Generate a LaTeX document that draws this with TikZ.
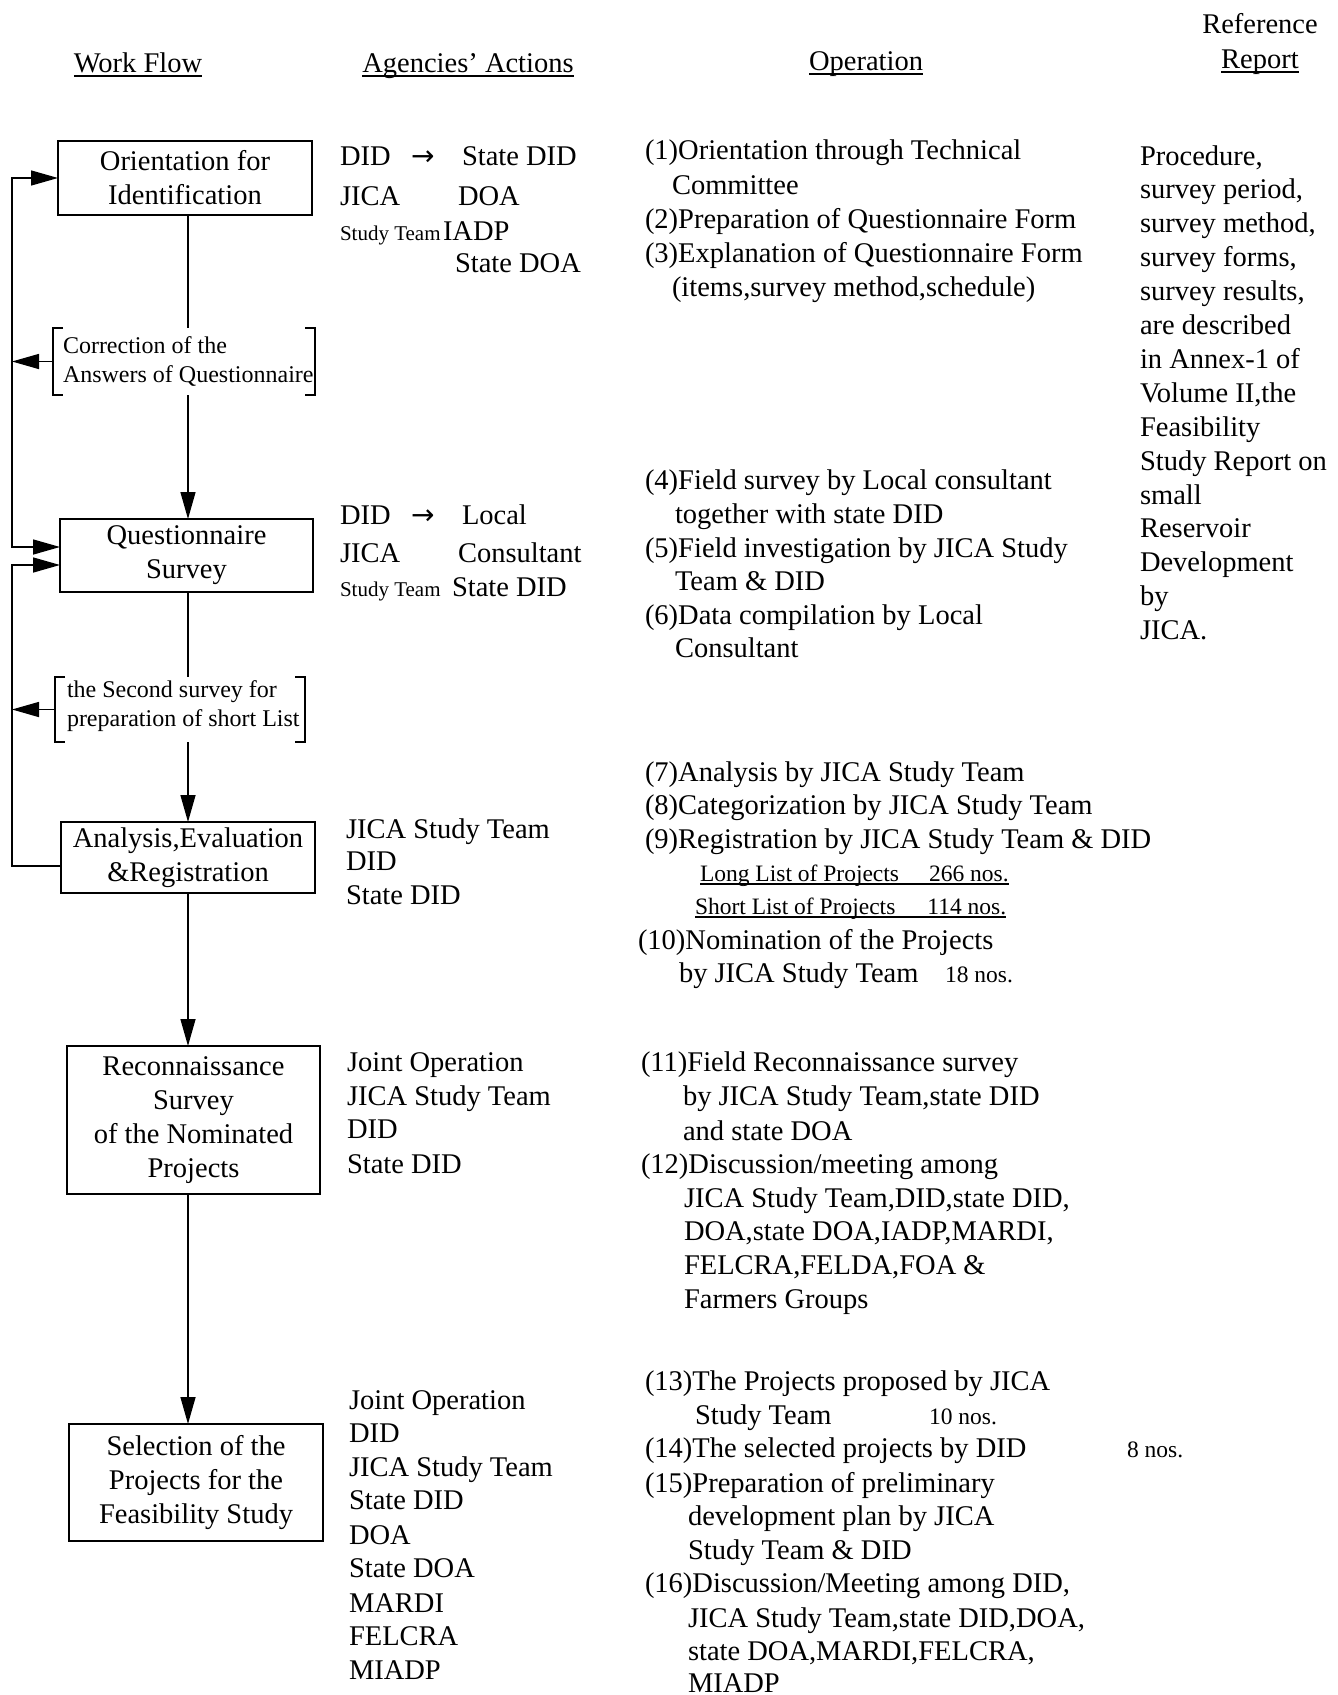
\documentclass[tikz,border=0pt]{standalone}
\usepackage{fontspec}
\setmainfont{Liberation Serif}
\newfontfamily\arrf{DejaVu Sans}
\usetikzlibrary{arrows.meta}
\begin{document}
\begin{tikzpicture}[
  x=1pt, y=-1pt,
  every node/.style={inner sep=0pt, outer sep=0pt},
  t/.style={anchor=base west, font=\fontsize{28.5}{33.8}\selectfont},
  tc/.style={anchor=base, font=\fontsize{28.5}{33.8}\selectfont},
  sm/.style={anchor=base west, font=\fontsize{23.5}{28}\selectfont},
  xs/.style={anchor=base west, font=\fontsize{21}{25}\selectfont},
  br/.style={anchor=base west, font=\fontsize{24}{30}\selectfont},
  box/.style={draw, line width=1.5pt, align=center, font=\fontsize{28.5}{33.8}\selectfont},
  ln/.style={line width=1.5pt},
  ul/.style={line width=1.3pt},
  arr/.style={ln, -{Triangle[length=27pt,width=15pt]}},
]
\useasboundingbox (0,0) rectangle (1338,1695);

% ---------- headers ----------
\node[tc] (h1) at (138,72) {Work Flow};
\node[tc] (h2) at (468,72) {Agencies' Actions};
\node[tc] (h3) at (866,70) {Operation};
\node[tc] (h4) at (1260,33) {Reference};
\node[tc] (h5) at (1260,68) {Report};
\foreach \h in {h1,h2,h3,h5}
  \draw[ul] ([yshift=-4pt]\h.base west) -- ([yshift=-4pt]\h.base east);

% ---------- work flow boxes ----------
\node[box, minimum width=254pt, minimum height=74pt] (b1) at (185,178) {Orientation for\\Identification};
\node[box, minimum width=253pt, minimum height=73pt] (b2) at (186.5,555.5) {Questionnaire\\Survey};
\node[box, minimum width=254pt, minimum height=71pt] (b3) at (188,857.5) {Analysis,Evaluation\\\&Registration};
\node[box, minimum width=253pt, minimum height=148pt] (b4) at (193.5,1120) {Reconnaissance\\Survey\\of the Nominated\\Projects};
\node[box, minimum width=254pt, minimum height=117pt] (b5) at (196,1482.5) {Selection of the\\Projects for the\\Feasibility Study};

% ---------- bracket labels ----------
\node[minimum width=262pt, minimum height=67pt] (c1) at (184,361.5) {};
\node[br] (c1a) at (63,353) {Correction of the};
\node[br] (c1b) at (63,382) {Answers of Questionnaire};
\node[minimum width=250pt, minimum height=65pt] (c2) at (180,709.5) {};
\node[br] (c2a) at (67,697) {the Second survey for};
\node[br] (c2b) at (67,726) {preparation of short List};
\foreach \c in {c1,c2}{
  \draw[ul] ([xshift=10pt]\c.north west) -- (\c.north west) -- (\c.south west) -- ([xshift=10pt]\c.south west);
  \draw[ul] ([xshift=-10pt]\c.north east) -- (\c.north east) -- (\c.south east) -- ([xshift=-10pt]\c.south east);
}

% ---------- main flow ----------
\coordinate (sp) at (188,0);
\draw[ln] (sp |- b1.south) -- (sp |- c1.north);
\draw[arr] (sp |- c1.south) -- (sp |- b2.north);
\draw[ln] (sp |- b2.south) -- (sp |- c2.north);
\draw[arr] (sp |- c2.south) -- (sp |- b3.north);
\draw[arr] (sp |- b3.south) -- (sp |- b4.north);
\draw[arr] (sp |- b4.south) -- (sp |- b5.north);

% ---------- feedback ----------
\coordinate (fa) at (12,361.5);
\coordinate (fb) at (12,709.5);
\draw[arr] (c1.west) -- (fa);
\draw[arr] (fa) |- (b1.west);
\draw[arr] (fa) |- ([yshift=8.5pt]b2.west);
\draw[arr] (c2.west) -- (fb);
\draw[arr] (fb) |- ([yshift=-9.5pt]b2.west);
\draw[ln] (fb) |- ([yshift=-8.5pt]b3.west);

% ---------- agencies ----------
\node[t] (a11) at (340,165) {DID};
\node[t, font=\arrf\fontsize{28}{33.8}\selectfont] (a11r) at (411,165) {→};
\node[t] (a11s) at (462,165) {State DID};
\node[t] (a12) at (340,205) {JICA};
\node[t] (a12s) at (458,205) {DOA};
\node[xs] (a13) at (340,240) {Study Team};
\node[t] (a13s) at (443,240) {IADP};
\node[t] (a14s) at (455,272) {State DOA};

\node[t] (a21) at (340,524) {DID};
\node[t, font=\arrf\fontsize{28}{33.8}\selectfont] (a21r) at (411,524) {→};
\node[t] (a21s) at (462,524) {Local};
\node[t] (a22) at (340,562) {JICA};
\node[t] (a22s) at (458,562) {Consultant};
\node[xs] (a23) at (340,596) {Study Team};
\node[t] (a23s) at (452,596) {State DID};

\node[t] (a31) at (346,838) {JICA Study Team};
\node[t] (a32) at (346,870) {DID};
\node[t] (a33) at (346,904) {State DID};

\node[t] (a41) at (347,1071) {Joint Operation};
\node[t] (a42) at (347,1105) {JICA Study Team};
\node[t] (a43) at (347,1138) {DID};
\node[t] (a44) at (347,1173) {State DID};

\foreach \n/\y/\s in {1/1409/Joint Operation, 2/1442/DID, 3/1476/JICA Study Team,
  4/1509/State DID, 5/1544/DOA, 6/1577/State DOA, 7/1612/MARDI, 8/1645/FELCRA, 9/1679/MIADP}
  \node[t] (a5\n) at (349,\y) {\s};

% ---------- operation ----------
\node[t] (o1) at (645,159) {(1)Orientation through Technical};
\node[t] (o1b) at (672,194) {Committee};
\node[t] (o2) at (645,228) {(2)Preparation of Questionnaire Form};
\node[t] (o3) at (645,262) {(3)Explanation of Questionnaire Form};
\node[t] (o3b) at (672,296) {(items,survey method,schedule)};
\node[t] (o4) at (645,489) {(4)Field survey by Local consultant};
\node[t] (o4b) at (675,523) {together with state DID};
\node[t] (o5) at (645,557) {(5)Field investigation by JICA Study};
\node[t] (o5b) at (675,590) {Team \& DID};
\node[t] (o6) at (645,624) {(6)Data compilation by Local};
\node[t] (o6b) at (675,657) {Consultant};
\node[t] (o7) at (645,781) {(7)Analysis by JICA Study Team};
\node[t] (o8) at (645,814) {(8)Categorization by JICA Study Team};
\node[t] (o9) at (645,848) {(9)Registration by JICA Study Team \& DID};
\node[sm] (ll) at (700,881) {Long List of Projects\hspace{30pt}266 nos.};
\node[sm] (sl) at (695,914) {Short List of Projects\hspace{32pt}114 nos.};
\foreach \h in {ll,sl}
  \draw[ul] ([yshift=-3pt]\h.base west) -- ([yshift=-3pt]\h.base east);
\node[t] (o10) at (638,949) {(10)Nomination of the Projects};
\node[t] (o10b) at (679,982) {by JICA Study Team};
\node[sm] (o10n) at (945,982) {18 nos.};
\node[t] (o11) at (641,1071) {(11)Field Reconnaissance survey};
\node[t] (o11b) at (683,1105) {by JICA Study Team,state DID};
\node[t] (o11c) at (683,1140) {and state DOA};
\node[t] (o12) at (641,1173) {(12)Discussion/meeting among};
\node[t] (o12b) at (684,1207) {JICA Study Team,DID,state DID,};
\node[t] (o12c) at (684,1240) {DOA,state DOA,IADP,MARDI,};
\node[t] (o12d) at (684,1274) {FELCRA,FELDA,FOA \&};
\node[t] (o12e) at (684,1308) {Farmers Groups};
\node[t] (o13) at (645,1390) {(13)The Projects proposed by JICA};
\node[t] (o13b) at (695,1424) {Study Team};
\node[sm] (o13n) at (929,1424) {10 nos.};
\node[t] (o14) at (645,1457) {(14)The selected projects by DID};
\node[sm] (o14n) at (1127,1457) {8 nos.};
\node[t] (o15) at (645,1492) {(15)Preparation of preliminary};
\node[t] (o15b) at (688,1525) {development plan by JICA};
\node[t] (o15c) at (688,1559) {Study Team \& DID};
\node[t] (o16) at (645,1592) {(16)Discussion/Meeting among DID,};
\node[t] (o16b) at (688,1627) {JICA Study Team,state DID,DOA,};
\node[t] (o16c) at (688,1660) {state DOA,MARDI,FELCRA,};
\node[t] (o16d) at (688,1692) {MIADP};

% ---------- reference report ----------
\foreach \n/\s in {0/{Procedure,}, 1/{survey period,}, 2/{survey method,}, 3/{survey forms,},
  4/{survey results,}, 5/{are described}, 6/{in Annex-1 of}, 7/{Volume II,the}, 8/{Feasibility},
  9/{Study Report on}, 10/{small}, 11/{Reservoir}, 12/{Development}, 13/{by}, 14/{JICA.}}
  \node[t] (r\n) at (1140,165+33.9*\n) {\s};
\end{tikzpicture}
\end{document}
